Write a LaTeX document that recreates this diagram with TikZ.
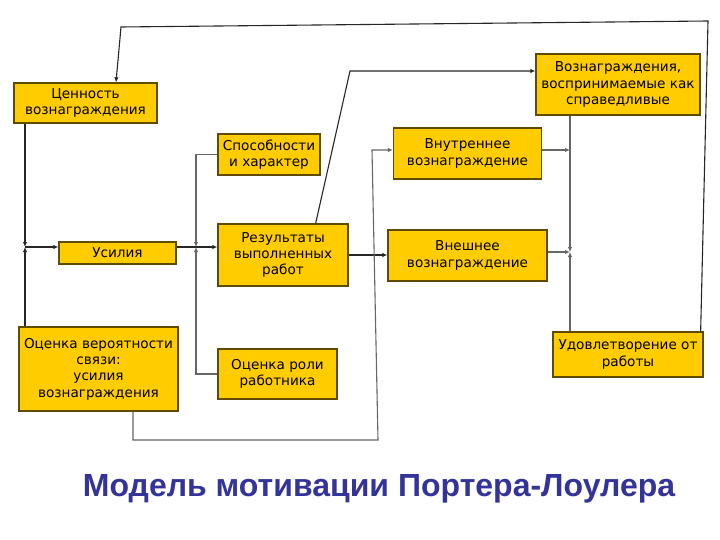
\documentclass[tikz,border=0pt]{standalone}
\usepackage{fontspec}
\setmainfont{DejaVu Sans}
\newfontfamily\titlefont{Liberation Sans}
\usetikzlibrary{arrows.meta,calc}

\definecolor{boxfill}{HTML}{FFCC00}
\definecolor{boxline}{HTML}{5E4B00}
\definecolor{titleblue}{HTML}{333399}

\tikzset{
  block/.style={draw=boxline, fill=boxfill, line width=1.3pt, align=center, inner sep=0pt,
    font=\fontsize{13.6}{16.3}\selectfont},
  link/.style={draw=black!85, line width=1.1pt},
  arrow/.style={link, -{Latex[length=5pt,width=4.5pt]}},
  grey/.style={draw=black!60}}

\begin{document}
\begin{tikzpicture}[x=1pt, y=-1pt]
    \useasboundingbox (0,0) rectangle (720,540);
    % blocks
    \node[block, minimum width=143pt, minimum height=40pt] (val) at (85.5,103) {Ценность\\вознаграждения};
    \node[block, minimum width=117pt, minimum height=22pt] (eff) at (117.5,253) {Усилия};
    \node[block, minimum width=159pt, minimum height=84pt] (prob) at (98.5,369) {Оценка вероятности\\связи:\\усилия\\вознаграждения};
    \node[block, minimum width=102pt, minimum height=41pt] (abil) at (269,154.5) {Способности\\и характер};
    \node[block, minimum width=130pt, minimum height=62pt] (perf) at (283,255) {Результаты\\выполненных\\работ};
    \node[block, minimum width=119pt, minimum height=50pt] (role) at (277.5,374) {Оценка роли\\работника};
    \node[block, minimum width=148pt, minimum height=51pt] (intr) at (467.5,153.5) {Внутреннее\\вознаграждение};
    \node[block, minimum width=159pt, minimum height=51pt] (extr) at (467.5,255.5) {Внешнее\\вознаграждение};
    \node[block, minimum width=164pt, minimum height=61pt] (fair) at (618,84.5) {Вознаграждения,\\воспринимаемые как\\справедливые};
    \node[block, minimum width=150pt, minimum height=45pt] (sat) at (628,354.5) {Удовлетворение от\\работы};
    % junctions and bends
    \coordinate (j1) at (25,247);
    \coordinate (j2) at (196,247);
    \coordinate (j3) at (570,150);
    \coordinate (j4) at (570,252);
    \coordinate (k1) at (350,71);
    \coordinate (b1) at (133,440);
    \coordinate (b2) at (378,440);
    \coordinate (b3) at (372,150);
    \coordinate (t1) at (708,21);
    \coordinate (t2) at (121,27);
    \coordinate (t3) at (116,0);
    % effort
    \draw[arrow] (j1 |- val.south) -- (j1);
    \draw[arrow] (j1 |- prob.north) -- (j1);
    \draw[arrow] (j1) -- (j1 -| eff.west);
    % performance
    \draw[link] (j2 -| eff.east) -- (j2);
    \draw[arrow, grey] (abil.west) -| (j2);
    \draw[arrow, grey] (role.west) -| (j2);
    \draw[arrow] (j2) -- (j2 -| perf.west);
    % rewards
    \draw[arrow] ($(perf.north east)+(-33,0)$) -- (k1) -- (k1 -| fair.west);
    \draw[arrow] (perf.east) -- (perf.east -| extr.west);
    \draw[arrow, grey] (b1 |- prob.south) -- (b1) -- (b2) -- (b3) -- (b3 -| intr.west);
    % satisfaction
    \draw[arrow, grey] (j3 -| intr.east) -- (j3);
    \draw[arrow, grey] (j4 -| extr.east) -- (j4);
    \draw[arrow, grey] (j4 |- fair.south) -- (j4);
    \draw[arrow, grey] (j4 |- sat.north) -- (j4);
    % feedback
    \draw[arrow] ($(sat.north east)+(-3,0)$) -- (t1) -- (t2) -- (t3 |- val.north);
    % title
    \node[font=\titlefont\bfseries\fontsize{32}{38}\selectfont, text=titleblue] (title) at (379,489) {Модель мотивации Портера-Лоулера};
\end{tikzpicture}
\end{document}
